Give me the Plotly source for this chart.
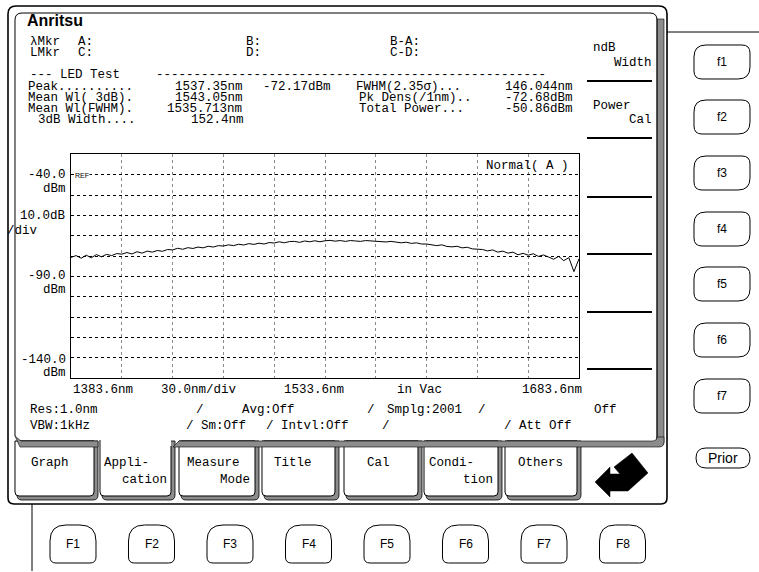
import plotly.graph_objects as go

W, H = 759, 572

WAVELENGTH_NM = [
    1383.6, 1386.6, 1389.6, 1392.6, 1395.6, 1398.6, 1401.6, 1404.6, 1407.6, 1410.6,
    1413.6, 1416.6, 1419.6, 1422.6, 1425.6, 1428.6, 1431.6, 1434.6, 1437.6, 1440.6,
    1443.6, 1446.6, 1449.6, 1452.6, 1455.6, 1458.6, 1461.6, 1464.6, 1467.6, 1470.6,
    1473.6, 1476.6, 1479.6, 1482.6, 1485.6, 1488.6, 1491.6, 1494.6, 1497.6, 1500.6,
    1503.6, 1506.6, 1509.6, 1512.6, 1515.6, 1518.6, 1521.6, 1524.6, 1527.6, 1530.6,
    1533.6, 1536.6, 1539.6, 1542.6, 1545.6, 1548.6, 1551.6, 1554.6, 1557.6, 1560.6,
    1563.6, 1566.6, 1569.6, 1572.6, 1575.6, 1578.6, 1581.6, 1584.6, 1587.6, 1590.6,
    1593.6, 1596.6, 1599.6, 1602.6, 1605.6, 1608.6, 1611.6, 1614.6, 1617.6, 1620.6,
    1623.6, 1626.6, 1629.6, 1632.6, 1635.6, 1638.6, 1641.6, 1644.6, 1647.6, 1650.6,
    1653.6, 1656.6, 1659.6, 1662.6, 1665.6, 1668.6, 1671.6, 1674.6, 1677.6, 1680.6,
    1683.6,
]
POWER_DBM = [
    -80.6, -79.7, -81.0, -79.5, -80.8, -79.2, -80.3, -79.1, -79.7, -78.7,
    -79.0, -78.2, -78.9, -77.8, -78.5, -77.5, -78.0, -77.2, -77.6, -76.7,
    -76.9, -76.1, -76.6, -75.8, -76.2, -75.5, -75.9, -75.1, -75.5, -74.8,
    -75.0, -74.4, -74.8, -74.1, -74.5, -73.8, -74.2, -73.6, -74.0, -73.3,
    -73.5, -72.9, -73.4, -72.8, -72.7, -73.2, -72.5, -72.9, -72.4, -72.9,
    -72.4, -72.2, -72.6, -72.3, -72.7, -72.3, -72.5, -72.7, -72.3, -72.5,
    -72.5, -72.7, -73.0, -72.7, -73.2, -73.4, -73.1, -73.7, -73.4, -74.0,
    -74.0, -74.3, -74.8, -74.4, -75.2, -75.4, -75.1, -75.9, -75.6, -76.4,
    -76.4, -76.7, -77.4, -76.9, -78.0, -77.5, -78.5, -78.0, -79.3, -78.6,
    -79.5, -78.8, -80.1, -79.4, -80.4, -81.5, -80.1, -82.2, -80.7, -87.6,
    -81.3,
]

X_RANGE_NM = [1383.6, 1683.6]
Y_RANGE_DBM = [-140.0, -29.66]
X_GRID_NM = [1413.6, 1443.6, 1473.6, 1503.6, 1533.6, 1563.6, 1593.6, 1623.6, 1653.6]
Y_GRID_DBM = [-130, -120, -110, -100, -90, -80, -70, -60, -50, -40]

Y_TICK_LABELS = ["-40.0", "-90.0", "-140.0"]
X_TICK_LABELS = ["1383.6nm", "30.0nm/div", "1533.6nm", "in Vac", "1683.6nm"]

MARKER_ROW_1 = ["λMkr", "A:", "B:", "B-A:"]
MARKER_ROW_2 = ["LMkr", "C:", "D:", "C-D:"]
RESULT_LABELS_L = ["Peak..........", "Mean Wl( 3dB).", "Mean Wl(FWHM).", "3dB Width...."]
RESULT_VALUES_L = ["1537.35nm", "1543.05nm", "1535.713nm", "152.4nm"]
PEAK_LEVEL = "-72.17dBm"
RESULT_LABELS_R = ["FWHM(2.35σ)...", "Pk Dens(/1nm)..", "Total Power..."]
RESULT_VALUES_R = ["146.044nm", "-72.68dBm", "-50.86dBm"]

SOFTKEYS_RIGHT = ["f1", "f2", "f3", "f4", "f5", "f6", "f7"]
SOFTKEYS_BOTTOM = ["F1", "F2", "F3", "F4", "F5", "F6", "F7", "F8"]
TAB_LABELS = [("Graph", ""), ("Appli-", "cation"), ("Measure", "Mode"), ("Title", ""),
              ("Cal", ""), ("Condi-", "tion"), ("Others", "")]

# ---------------- helpers (pixel -> paper) ----------------
MONO = "Liberation Mono, DejaVu Sans Mono, monospace"
SANS = "Liberation Sans, Arial, sans-serif"
GRAY = "#8c8c8c"
FS = 12.5


def X(x):
    return x / W


def Y(y):
    return 1 - y / H


def P(x, y):
    return f"{X(x):.5f},{Y(y):.5f}"


shapes = []
annotations = []


def add_path(d, color="black", width=1.0, fill=None):
    shapes.append(dict(type="path", xref="paper", yref="paper", path=d,
                       line=dict(color=color, width=width),
                       fillcolor=fill if fill else "rgba(0,0,0,0)"))


def rr(x0, y0, x1, y1, tl=0, tr=0, br=0, bl=0):
    return (f"M{P(x0 + tl, y0)} L{P(x1 - tr, y0)} Q{P(x1, y0)} {P(x1, y0 + tr)} "
            f"L{P(x1, y1 - br)} Q{P(x1, y1)} {P(x1 - br, y1)} L{P(x0 + bl, y1)} "
            f"Q{P(x0, y1)} {P(x0, y1 - bl)} L{P(x0, y0 + tl)} Q{P(x0, y0)} {P(x0 + tl, y0)} Z")


def line(x0, y0, x1, y1, width=1.0, color="black"):
    shapes.append(dict(type="line", xref="paper", yref="paper", x0=X(x0), y0=Y(y0),
                       x1=X(x1), y1=Y(y1), line=dict(color=color, width=width)))


def text(x, y, s, anchor="left", size=FS, family=MONO, bold=False, bg=None):
    if bold:
        s = f"<b>{s}</b>"
    a = dict(x=X(x), y=Y(y), xref="paper", yref="paper", text=s, showarrow=False,
             xanchor=anchor, yanchor="middle", borderpad=0,
             font=dict(family=family, size=size, color="black"))
    if bg:
        a["bgcolor"] = bg
    annotations.append(a)


CW = 8.0  # character cell width on the screen


def col(c):
    return 27 + CW * c


# ---------------- frame / bezel ----------------
add_path(rr(8, 6, 667, 504, 8, 8, 6, 6), width=1.6)
add_path(rr(657, 19, 664, 446, 0, 0, 4, 0), width=0.6, fill=GRAY)
add_path(f"M{P(15, 436)} L{P(15, 20)} Q{P(15, 13)} {P(22, 13)} L{P(650, 13)} "
         f"Q{P(657, 13)} {P(657, 20)} L{P(657, 440)}", width=1)
line(667, 32, 759, 32)
line(32, 504, 32, 571)

# tabs
TAB_X = [(15, 98), (100, 175), (179, 259), (262, 339), (344, 422), (424, 502), (505, 581)]
for i, (x0, x1) in enumerate(TAB_X):
    top = 441
    add_path(rr(x0 + 2, top, x1, 500, 0, 0, 5, 5), width=0.8, fill=GRAY)
    if i == 1:
        add_path(rr(x0, 436, x1 - 4, 496, 0, 0, 4, 4), width=0, fill="white")
        add_path(f"M{P(x0, 440)} L{P(x0, 492)} Q{P(x0, 496)} {P(x0 + 4, 496)} "
                 f"L{P(x1 - 8, 496)} Q{P(x1 - 4, 496)} {P(x1 - 4, 492)} L{P(x1 - 4, 446)}", width=1)
    else:
        add_path(rr(x0, top, x1 - 4, 496, 0, 0, 4, 4), width=1, fill="white")
add_path(f"M{P(15, 436)} L{P(21, 441)} L{P(98, 441)} L{P(98, 447)} L{P(20, 447)} Z",
         width=0.6, fill=GRAY)
add_path(f"M{P(173, 447)} L{P(179, 441)} L{P(653, 441)} Q{P(657, 441)} {P(657, 437)} "
         f"L{P(664, 437)} L{P(664, 442)} Q{P(664, 447)} {P(659, 447)} Z", width=0.6, fill=GRAY)

# soft-key dividers
for yy in [81, 138, 197, 254, 312, 369]:
    line(587, yy, 652, yy, width=2)

# return arrow
arrow = [(595, 482), (610, 467), (610, 474), (620, 474), (614, 467), (632, 453),
         (648, 473), (628, 491), (610, 491), (610, 497)]
add_path("M" + " L".join(P(a, b) for a, b in arrow) + " Z", width=0.5, fill="black")

# right soft-key buttons
F_RIGHT_Y = [62, 117, 173, 229, 284, 340, 396]
for lab, cy in zip(SOFTKEYS_RIGHT, F_RIGHT_Y):
    add_path(rr(694, cy - 17, 750, cy + 17, 12, 8, 12, 8), width=1)
    text(722, cy, lab, anchor="center", size=12, family=SANS)
add_path(rr(696, 448, 750, 468, 10, 10, 10, 10), width=1)
text(723, 458, "Prior", anchor="center", size=14, family=SANS)

# bottom function buttons
F_BOTTOM_X = [73, 151.5, 230, 308.5, 387, 465.5, 544, 622.5]
for lab, cx in zip(SOFTKEYS_BOTTOM, F_BOTTOM_X):
    add_path(rr(cx - 23, 525, cx + 23, 563, 16, 16, 6, 6), width=1)
    text(cx, 544, lab, anchor="center", size=12, family=SANS)

# ---------------- header texts ----------------
text(26, 21, "Anritsu", size=16, family=SANS, bold=True)
for row, yy in ((MARKER_ROW_1, 42), (MARKER_ROW_2, 53)):
    for s, c in zip(row, [0, 6, 27, 45]):
        text(col(c) + 2, yy, s)
text(col(0) + 2, 75, "--- LED Test")
text(col(16), 75, "-" * 52)
ROW_Y = [87, 98, 109, 120]
VAL_X = [col(18) + 3, col(18) + 3, col(17) + 3, col(20) + 3]
LAB_X = [col(0), col(0), col(0), col(1) + 2]
for i, yy in enumerate(ROW_Y):
    text(LAB_X[i], yy, RESULT_LABELS_L[i])
    text(VAL_X[i], yy, RESULT_VALUES_L[i])
text(col(29) + 3, ROW_Y[0], PEAK_LEVEL)
for i in range(3):
    text(col(41) if i == 0 else col(41) + 3, ROW_Y[i], RESULT_LABELS_R[i])
    text(574, ROW_Y[i], RESULT_VALUES_R[i], anchor="right")

# soft-key labels
text(592, 48, "ndB")
text(653, 63, "Width", anchor="right")
text(592, 106, "Power")
text(653, 120, "Cal", anchor="right")

# ---------------- graph labels ----------------
text(67, 175, Y_TICK_LABELS[0], anchor="right")
text(67, 189, "dBm", anchor="right")
text(67, 216, "10.0dB", anchor="right")
text(6, 231, "/div")
text(67, 276, Y_TICK_LABELS[1], anchor="right")
text(67, 290, "dBm", anchor="right")
text(67, 360, Y_TICK_LABELS[2], anchor="right")
text(67, 373, "dBm", anchor="right")
text(72, 390, X_TICK_LABELS[0])
text(160, 390, X_TICK_LABELS[1])
text(283, 390, X_TICK_LABELS[2])
text(396, 390, X_TICK_LABELS[3])
text(583, 390, X_TICK_LABELS[4], anchor="right")
text(74, 175.5, "REF", size=7, family=SANS, bg="white")
text(485, 166, "Normal( A )")

# status lines
text(29, 410, "Res:1.0nm")
text(195, 410, "/")
text(241, 410, "Avg:Off")
text(366, 410, "/")
text(386, 410, "Smplg:2001")
text(477, 410, "/")
text(593, 410, "Off")
text(29, 426, "VBW:1kHz")
text(185, 426, "/ Sm:Off")
text(265, 426, "/ Intvl:Off")
text(381, 426, "/")
text(503, 426, "/ Att Off")

# tab texts
TAB_TEXT = [(30, None), (103, 168), (186, 251), (273, None), (366, None), (428, 494), (517, None)]
for (l1, l2), (tx, rx) in zip(TAB_LABELS, TAB_TEXT):
    text(tx, 463, l1)
    if l2:
        text(rx, 480, l2, anchor="right")

# ---------------- figure ----------------
fig = go.Figure()
fig.add_trace(go.Scatter(x=WAVELENGTH_NM, y=POWER_DBM, mode="lines",
                         line=dict(color="black", width=1), hoverinfo="skip",
                         showlegend=False))
fig.update_layout(
    width=W, height=H, margin=dict(l=0, r=0, t=0, b=0),
    paper_bgcolor="white", plot_bgcolor="white", showlegend=False,
    xaxis=dict(domain=[X(71), X(579)], range=X_RANGE_NM, tickmode="array",
               tickvals=X_GRID_NM, showticklabels=False, ticks="",
               showgrid=True, gridcolor="#8a8a8a", griddash="dot", gridwidth=1,
               zeroline=False, showline=True, mirror=True, linecolor="black", linewidth=1),
    yaxis=dict(domain=[Y(378), Y(154)], range=Y_RANGE_DBM, tickmode="array",
               tickvals=Y_GRID_DBM, showticklabels=False, ticks="",
               showgrid=True, gridcolor="black", griddash="dot", gridwidth=1,
               zeroline=False, showline=True, mirror=True, linecolor="black", linewidth=1),
    shapes=shapes, annotations=annotations,
)
fig.write_html("out.html", config={"displayModeBar": False},
               post_script="document.body.style.margin='0';document.body.style.padding='0';")
